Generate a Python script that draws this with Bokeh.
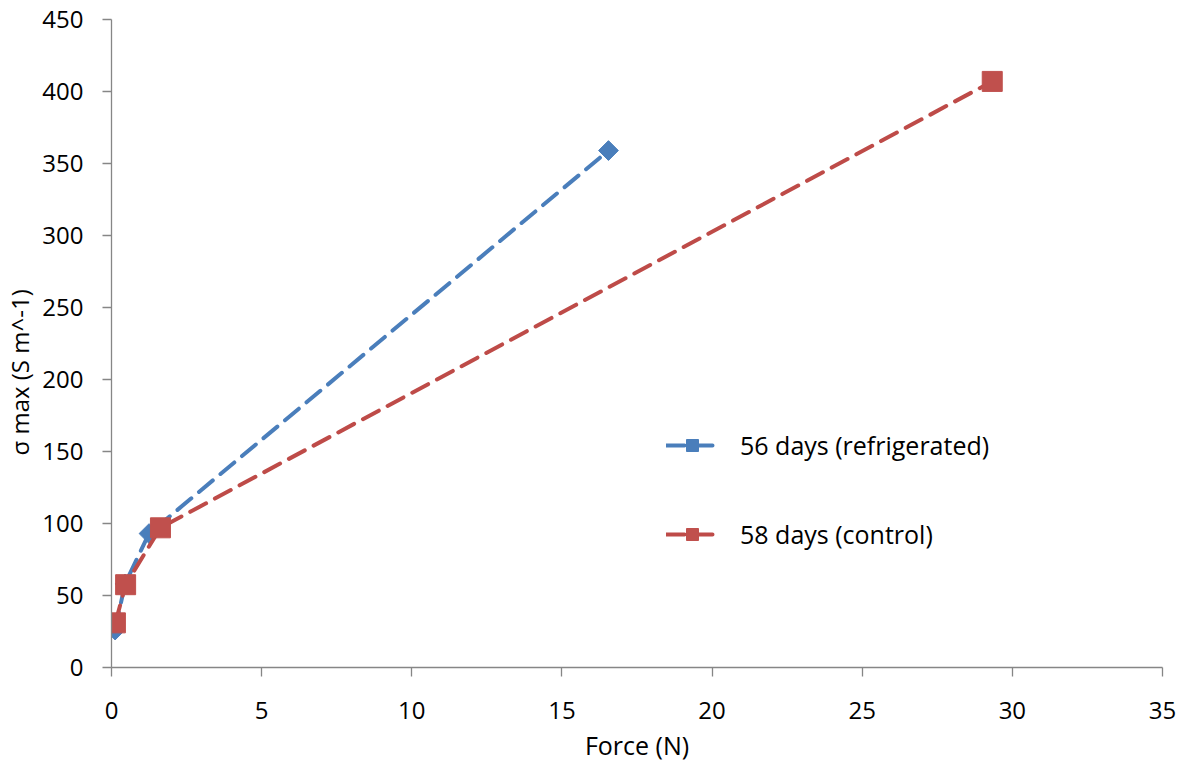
import numpy as np
from bokeh.plotting import figure
from bokeh.models import Range1d, FixedTicker, Legend, LegendItem, Title
from bokeh.embed import file_html
from bokeh.resources import INLINE

# Data
refrig_force = [0.12, 0.45, 1.25, 16.55]
refrig_sigma = [26, 58, 93, 359]
control_force = [0.13, 0.47, 1.63, 29.33]
control_sigma = [31, 57.5, 97, 407]
x_ticks = [0, 5, 10, 15, 20, 25, 30, 35]
y_ticks = [0, 50, 100, 150, 200, 250, 300, 350, 400, 450]

BLUE = "#4A7EBB"
RED = "#BE4B48"
FONT = "Open Sans"
AXIS_COL = "#868686"

p = figure(width=1178, height=767, output_backend="svg", toolbar_location=None,
           x_range=Range1d(0, 35), y_range=Range1d(0, 450),
           min_border_left=110, min_border_top=19, min_border_right=16, min_border_bottom=100)
p.outline_line_color = None
p.xgrid.visible = False
p.ygrid.visible = False

for ax, ticks in ((p.xaxis[0], x_ticks), (p.yaxis[0], y_ticks)):
    ax.ticker = FixedTicker(ticks=ticks)
    ax.minor_tick_line_color = None
    ax.axis_line_color = AXIS_COL
    ax.major_tick_line_color = AXIS_COL
    ax.axis_line_width = 1.3
    ax.major_tick_line_width = 1.3
    ax.major_tick_out = 9
    ax.major_tick_in = 0
    ax.major_label_text_font = FONT
    ax.major_label_text_font_size = "24px"
    ax.major_label_text_color = "#000000"
    ax.axis_label_text_font = FONT
    ax.axis_label_text_font_style = "normal"
    ax.axis_label_text_color = "#000000"

p.xaxis.axis_label = "Force (N)"
p.xaxis.axis_label_text_font_size = "25px"
p.xaxis.major_label_standoff = 25
p.yaxis.major_label_standoff = 19
p.xaxis.axis_label_standoff = 6

ylab = Title(text="σ max (S m^-1)", align="left", offset=212, standoff=4,
             vertical_align="top",
             text_font=FONT, text_font_size="24px", text_font_style="normal",
             text_color="#000000")
p.add_layout(ylab, "left")

l1 = p.line(refrig_force, refrig_sigma, line_color=BLUE, line_width=4, line_dash="18 10", line_cap="round")
m1 = p.scatter(refrig_force, refrig_sigma, marker="square", size=14, angle=np.pi / 4,
               fill_color=BLUE, line_color=BLUE)
l2 = p.line(control_force, control_sigma, line_color=RED, line_width=4, line_dash="18 10", line_cap="round")
m2 = p.scatter(control_force, control_sigma, marker="square", size=20,
               fill_color="#C0504D", line_color="#C0504D")

legend = Legend(items=[LegendItem(label="56 days (refrigerated)", renderers=[l1, m1]),
                       LegendItem(label="58 days (control)", renderers=[l2, m2])],
                location=(555, 116))
legend.border_line_color = None
legend.background_fill_color = None
legend.background_fill_alpha = 0
legend.padding = 0
legend.margin = 0
legend.glyph_width = 52
legend.glyph_height = 30
legend.label_height = 30
legend.spacing = 55
legend.label_standoff = 22
legend.label_text_font = FONT
legend.label_text_font_size = "25px"
legend.label_text_color = "#000000"
p.add_layout(legend, "center")

open("out.html", "w").write(file_html(p, INLINE))
